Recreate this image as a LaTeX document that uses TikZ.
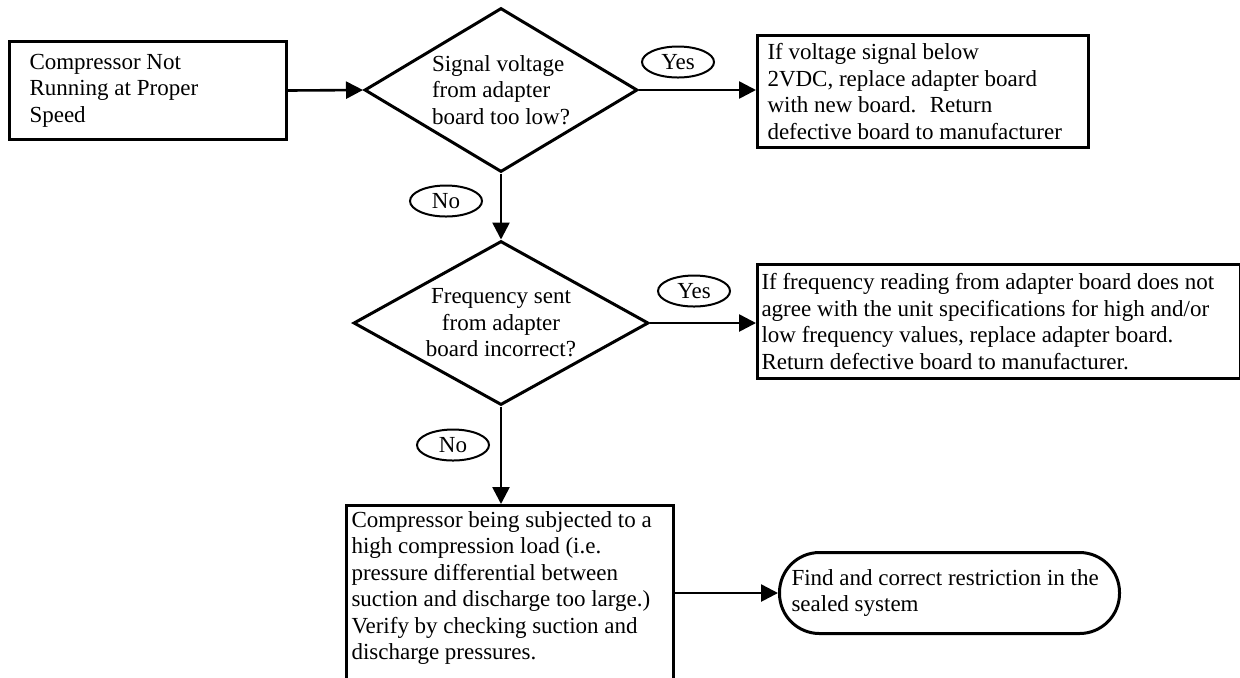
\documentclass[tikz,border=0pt]{standalone}
\usepackage{fontspec}
\setmainfont{Liberation Serif}
\usetikzlibrary{arrows.meta, positioning, shapes.geometric}

\begin{document}
\begin{tikzpicture}[
        x=0.5pt, y=-0.5pt,
        every node/.style={font=\fontsize{11.5}{13.2}\selectfont},
        box/.style={rectangle, draw=black, line width=1.5pt, align=flush left, anchor=north west, inner ysep=2pt},
        ask/.style={diamond, draw=black, line width=1.5pt, inner sep=0pt},
        term/.style={rectangle, draw=black, line width=1.5pt, rounded corners=20pt, align=flush left, anchor=north west},
        tag/.style={ellipse, draw=black, line width=1pt, minimum width=36pt, minimum height=15.5pt, inner sep=0pt},
        arrow/.style={draw, -{Triangle[length=8.5pt, width=8.5pt]}, line width=1.3pt}
    ]
    \useasboundingbox (0,0) rectangle (1240,677);
    \clip (0,0) rectangle (1240,677);

    % Row 1: start, first question, first fix
    \node [box, text width=118.5pt, inner xsep=10pt, minimum height=49pt] (start) at (8,40) {Compressor Not\\Running at Proper\\Speed};
    \node [ask, aspect=1.66, minimum width=136.5pt, minimum height=82pt, align=left] (sig) at (501,90) {Signal voltage\\from adapter\\board too low?};
    \node [box, text width=155.5pt, inner xsep=5pt, minimum height=56pt] (volt) at (756,34) {If voltage signal below\\2VDC, replace adapter board\\with new board.~ Return\\defective board to manufacturer};

    \draw [arrow] (start.east) -- (sig.west);
    \draw [arrow] (sig.east) -- (sig.east -| volt.west);
    \node [tag] (yes1) at (678,62) {Yes};

    % Row 2: second question, second fix
    \node [ask, aspect=1.8, minimum width=147.5pt, minimum height=82pt, align=center] (freq) at (501,323) {Frequency sent\\from adapter\\board incorrect?};
    \node [box, text width=237.5pt, inner xsep=2pt, minimum height=57pt] (board) at (756,263) {If frequency reading from adapter board does not\\agree with the unit specifications for high and/or\\low frequency values, replace adapter board.\\Return defective board to manufacturer.};

    \draw [arrow] (sig.south) -- (freq.north);
    \node [tag] (no1) at (446,201) {No};
    \draw [arrow] (freq.east) -- (freq.east -| board.west);
    \node [tag] (yes2) at (694,291) {Yes};

    % Row 3: load check and sealed system
    \node [box, text width=158.5pt, inner xsep=2.5pt, inner ysep=3pt, text depth=120pt] (load) at (345,504) {Compressor being subjected to a\\high compression load (i.e.\\pressure differential between\\suction and discharge too large.)\\Verify by checking suction and\\discharge pressures.};
    \node [term, text width=158pt, inner xsep=6pt, minimum height=40.5pt] (seal) at (778,551) {Find and correct restriction in the\\sealed system};

    \draw [arrow] (freq.south) -- (freq.south |- load.north);
    \node [tag] (no2) at (453,445) {No};
    \draw [arrow] (load.east |- seal.west) -- (seal.west);

\end{tikzpicture}
\end{document}
